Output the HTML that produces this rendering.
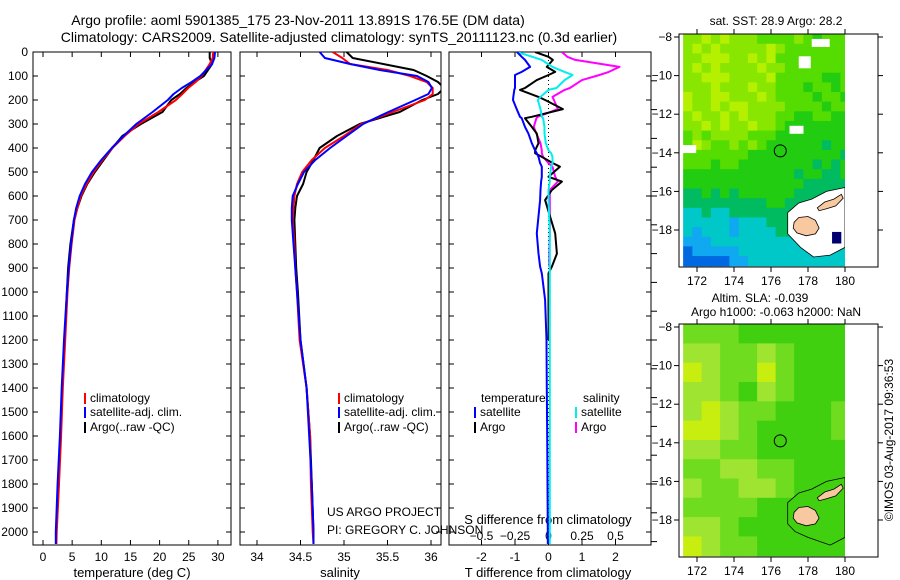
<!DOCTYPE html>
<html><head><meta charset="utf-8"><style>
html,body{margin:0;padding:0;background:#fff}
svg{display:block}
text{font-family:"Liberation Sans",sans-serif;font-size:12px;fill:#000}
.ax{font-size:13px}
.tt{font-size:14px}
</style></head><body>
<svg id="s" width="900" height="580" viewBox="0 0 900 580" xmlns="http://www.w3.org/2000/svg">
<text class="tt" x="298" y="25" text-anchor="middle">Argo profile: aoml 5901385_175 23-Nov-2011 13.891S 176.5E (DM data)</text>
<text class="tt" x="339" y="42" text-anchor="middle">Climatology: CARS2009. Satellite-adjusted climatology: synTS_20111123.nc (0.3d earlier)</text>
<g id="g"></g>
</svg>
<script>
// ---- data ----
const depths=[0,25,50,75,100,125,150,175,200,250,300,350,400,450,500,550,600,650,700,800,900,1000,1200,1400,1600,1800,2000,2050];
const tClim=[29.2,29.1,28.6,27.9,27.2,26.2,24.9,23.9,22.8,19.8,16.4,14.0,11.9,10.2,8.7,7.5,6.5,5.9,5.4,4.9,4.5,4.2,3.8,3.4,3.1,2.75,2.35,2.3];
const tSat=[29.5,29.4,29.0,28.0,27.0,25.5,23.8,22.4,21.4,18.8,16.0,13.8,11.8,10.0,8.4,7.2,6.3,5.7,5.3,4.8,4.4,4.1,3.6,3.2,2.9,2.5,2.2,2.2];
const tArgo=[28.6,28.6,29.0,28.3,27.6,26.0,24.6,23.5,22.0,20.5,16.8,13.6,11.9,10.4,8.9,7.6,6.6,5.9,5.3,4.7,4.3,4.1,3.7,3.3,3.0,2.7,2.3,null];
const sClim=[34.87,34.98,35.07,35.5,35.76,35.95,36.02,36.02,35.93,35.56,35.2,35.0,34.78,34.63,34.52,34.46,34.43,34.42,34.41,34.43,34.44,34.46,34.49,34.57,34.61,34.62,34.64,34.65];
const sSat=[34.72,34.78,35.07,35.41,35.84,35.97,36.01,35.97,35.82,35.51,35.22,35.03,34.84,34.67,34.54,34.47,34.41,34.4,34.4,34.42,34.44,34.46,34.5,34.57,34.6,34.63,34.65,34.65];
const sArgo=[35.03,35.1,35.45,35.8,35.95,36.08,36.15,36.08,35.9,35.64,35.18,34.92,34.72,34.65,34.57,34.53,34.46,34.44,34.43,34.44,34.45,34.47,34.5,34.57,34.61,34.63,34.65,null];
const dDepth=[0,20,33,62,83,96,117,150,158,187,200,238,270,276,312,340,380,410,422,437,463,478,520,540,575,617,756,840,894,922,1033,1200,1400,1600,1800,2000,2050];
const dTsat=[-0.94,-0.8,-0.7,-0.55,-0.8,-1.0,-1.0,-1.0,-1.02,-1.05,-1.06,-0.95,-0.85,-0.8,-0.7,-0.6,-0.5,-0.4,-0.35,-0.3,-0.25,-0.2,-0.2,-0.22,-0.24,-0.25,-0.35,-0.3,-0.25,-0.2,-0.1,-0.06,-0.05,-0.04,-0.03,-0.02,-0.02];
const dTargo=[-0.4,0.0,0.13,-0.05,0.2,0.0,-0.35,-0.7,-0.85,-0.3,-0.1,0.43,-0.5,-0.7,-0.5,-0.35,-0.3,-0.4,-0.4,-0.2,0.13,0.34,0.0,0.4,0.1,-0.1,0.2,0.25,0.1,0.0,0.0,0.0,null,null,null,null,null];
const dSsat=[-0.235,-0.12,-0.05,0.03,0.12,0.18,0.12,0.06,0.0,-0.06,-0.08,-0.06,-0.05,-0.04,-0.03,-0.03,-0.02,0.0,0.02,0.03,0.03,0.02,0.01,0.01,0.0,0.0,0.01,0.01,0.01,0.01,0.01,0.01,0.01,0.01,0.01,0.01,0.01];
const dSargo=[0.1,0.14,0.2,0.53,0.45,0.38,0.25,0.16,0.12,0.03,0.04,0.07,-0.08,-0.09,-0.11,-0.09,-0.06,-0.05,-0.05,-0.04,0.0,0.03,0.05,0.07,0.01,0.01,0.01,0.005,0.005,null,null,null,null,null,null,null,null];
const depthTicks=[0,100,200,300,400,500,600,700,800,900,1000,1100,1200,1300,1400,1500,1600,1700,1800,1900,2000];
const tTicks=[0,5,10,15,20,25,30];
const sTicks=[34,34.5,35,35.5,36];
const sTickLabels=["34","34.5","35","35.5","36"];
const dtTicks=[-2,-1,0,1,2];
const dsTicks=[-0.5,-0.25,0,0.25,0.5];
const lonTicks=[172,174,176,178,180];
const latTicks=[-8,-10,-12,-14,-16,-18];
// SST grid: 0.5 deg cells from 171.25E, -8 downward; digits = colour level
const sstRows=["110101112222123222","101011111012222222","110001101022222222","101011110112222222","110001111022222332","111011101122232232","011001110122223223","011010011112222322","101101011122332233","110101101123333333","212111122233333333","201221212333333433","222222233333333334","222322333333334343","333333333333433443","333333333333344444","443434333333444444","444444444334444444","554554444444444444","555556555444444444","565556555544444444","666555555555555555","766666555555555555","777776655555555555"];
const slaRows=["222333333","112212333","012202333","112312333","101223332","001233332","112233333","221122333","122112333","222233333","112333333","012233333"];
const sstColors=["#b4f000","#88e600","#55dc00","#22cc10","#00bb60","#00c8c8","#10a8f0","#0068e0"];
const slaColors=["#c8ee10","#9ee430","#70dc20","#40d010","#18c030"];
const vitiLevu=[[177.25,-17.6],[177.5,-17.35],[178.0,-17.3],[178.4,-17.5],[178.6,-17.9],[178.4,-18.2],[177.9,-18.3],[177.4,-18.15],[177.2,-17.9]];
const vanuaLevu=[[178.5,-16.85],[178.9,-16.55],[179.4,-16.4],[179.8,-16.15],[179.9,-16.35],[179.5,-16.75],[179.0,-16.9],[178.6,-17.0]];
const halo=[[176.9,-17.1],[177.5,-16.6],[178.2,-16.4],[179.0,-16.0],[180,-15.8],[180,-18.9],[179.2,-19.3],[178.3,-19.4],[177.6,-18.9],[176.9,-18.2]];
const argoPos=[176.5,-13.9];

const NS="http://www.w3.org/2000/svg";
const g=document.getElementById('g');
function el(tag,attrs,parent){const e=document.createElementNS(NS,tag);for(const k in attrs)e.setAttribute(k,attrs[k]);(parent||g).appendChild(e);return e;}
function txt(x,y,s,anchor,parent){const t=el('text',{x:x,y:y,'text-anchor':anchor||'start'},parent);t.textContent=s;return t;}
const yD=d=>52+0.24*d;
const PT=52,PB=545;
const panels=[{x0:33,x1:231},{x0:240,x1:441},{x0:449,x1:651}];
const xT=t=>43+t*5.83, xS=s=>257+(s-34)*87, xDT=v=>548.5+v*33.5, xDS=v=>548.5+v*134;

panels.forEach((p,i)=>{
  const f=el('rect',{x:p.x0,y:PT,width:p.x1-p.x0,height:PB-PT,fill:'none',stroke:'#000','stroke-width':1});
  
  
  depthTicks.forEach(d=>{el('line',{x1:p.x0,x2:p.x0+5,y1:yD(d),y2:yD(d),stroke:'#000'});el('line',{x1:p.x1,x2:p.x1-5,y1:yD(d),y2:yD(d),stroke:'#000'});});
});
depthTicks.forEach(d=>{const t=txt(28,yD(d)+4,String(d),'end');});
depthTicks.slice(1,18).forEach(d=>el('line',{x1:651,x2:657,y1:yD(d*1.2),y2:yD(d*1.2),stroke:'#000'}));
function xticks(vals,fx,labels,ly){vals.forEach((v,i)=>{const x=fx(v);el('line',{x1:x,x2:x,y1:PB,y2:PB-5,stroke:'#000'});el('line',{x1:x,x2:x,y1:PT,y2:PT+5,stroke:'#000'});const t=txt(x,ly,labels[i],'middle');});}
xticks(tTicks,xT,tTicks.map(String),561);
xticks(sTicks,xS,sTickLabels,561);
xticks(dtTicks,xDT,dtTicks.map(String),561);
dsTicks.forEach(v=>{const t=txt(xDS(v),540,String(v).replace('-','\u2212'),'middle');});
[["temperature (deg C)",132],["salinity",340],["T difference from climatology",548]].forEach(a=>{const t=txt(a[1],577,a[0],'middle');t.setAttribute('class','ax');});
{const t=txt(548,524,"S difference from climatology",'middle');t.setAttribute('class','ax');}
el('line',{x1:548.5,x2:548.5,y1:PT,y2:PB,stroke:'#000','stroke-dasharray':'1,3'});

const defs=el('defs',{});
panels.forEach((p,i)=>{const c=el('clipPath',{id:'c'+i},defs);el('rect',{x:p.x0,y:PT,width:p.x1-p.x0,height:PB-PT},c);});
function line(xs,ds,fx,color,name,clip,w){
  let d='',pen=false;
  xs.forEach((v,i)=>{if(v===null){pen=false;return;}d+=(pen?'L':'M')+fx(v).toFixed(1)+','+yD(ds[i]).toFixed(1);pen=true;});
  const p=el('path',{d:d,fill:'none',stroke:color,'stroke-width':w||2,'clip-path':'url(#c'+clip+')','stroke-linejoin':'round'});
  
  
}
line(tArgo,depths,xT,'#000','temp-argo-line',0);
line(tClim,depths,xT,'#f00','temp-climatology-line',0);
line(tSat,depths,xT,'#00f','temp-satellite-line',0);
line(sArgo,depths,xS,'#000','sal-argo-line',1);
line(sClim,depths,xS,'#f00','sal-climatology-line',1);
line(sSat,depths,xS,'#00f','sal-satellite-line',1);
line(dSargo,dDepth,xDS,'#f0f','sdiff-argo-line',2);
line(dTargo,dDepth,xDT,'#000','tdiff-argo-line',2);
line(dSsat,dDepth,xDS,'#0ee','sdiff-satellite-line',2);
line(dTsat,dDepth,xDT,'#00f','tdiff-satellite-line',2);

function leg(x,y,color,label,name){const r=el('rect',{x:x,y:y-9,width:2,height:11,fill:color});const t=txt(x+6,y,label);}
[[84,'temp'],[338,'sal']].forEach(a=>{leg(a[0],402,'#f00','climatology',a[1]+'-legend-climatology');leg(a[0],416,'#00f','satellite-adj. clim.',a[1]+'-legend-satellite');leg(a[0],431,'#000','Argo(..raw -QC)',a[1]+'-legend-argo');});
{const t=txt(481,402,'temperature');}
{const t=txt(583,402,'salinity');}
leg(474,416,'#00f','satellite','tdiff-legend-satellite');leg(474,431,'#000','Argo','tdiff-legend-argo');
leg(575,416,'#0ee','satellite','sdiff-legend-satellite');leg(575,431,'#f0f','Argo','sdiff-legend-argo');
{const t=txt(327,516,'US ARGO PROJECT');}
{const t=txt(327,534,'PI: GREGORY C. JOHNSON');}

function drawMap(top,rows,colors,cell,withHalo,name){
  const lx=l=>697+(l-172)*18.5, ly=la=>top+3+(-8-la)*19.3;
  const fx0=679,fx1=878,fy0=top,fy1=top+233;
  const cid='m'+top;const c=el('clipPath',{id:cid},defs);el('rect',{x:fx0,y:fy0,width:845-fx0,height:fy1-fy0},c);
  const gg=el('g',{'clip-path':'url(#'+cid+')'});
  
  
  rows.forEach((r,ri)=>{[...r].forEach((ch,ci)=>{const lon=171.25+ci*cell,lat=-7.85-ri*cell;
    el('rect',{x:lx(lon),y:ly(lat),width:cell*18.5+0.6,height:cell*19.3+0.6,fill:colors[+ch]},gg);});});
  const pts=a=>a.map(p=>lx(p[0]).toFixed(1)+','+ly(p[1]).toFixed(1)).join(' ');
  if(withHalo){el('polygon',{points:pts(halo),fill:'#fff',stroke:'#000','stroke-width':0.8},gg);
    el('rect',{x:lx(179.3),y:ly(-18.1),width:0.5*18.5,height:0.6*19.3,fill:'#000070'},gg);
    [[177.0,-12.6],[171.2,-13.6]].forEach(p=>el('rect',{x:lx(p[0]),y:ly(p[1]),width:14,height:8,fill:'#fff'},gg));
    el('rect',{x:lx(178.2),y:ly(-8.1),width:18,height:8,fill:'#fff'},gg);
    el('rect',{x:lx(177.5),y:ly(-9.0),width:12,height:12,fill:'#fff'},gg);
  } else {el('polygon',{points:pts(halo.slice(0,6).concat([[179.2,-19.3],[178.0,-18.9],[177.3,-18.6],[176.9,-18.2]])),fill:'none',stroke:'#000','stroke-width':0.8},gg);}
  const v=el('polygon',{points:pts(vitiLevu),fill:'#f8c8a0',stroke:'#000','stroke-width':0.8});
  
  const w=el('polygon',{points:pts(vanuaLevu),fill:'#f8c8a0',stroke:'#000','stroke-width':0.8});
  
  const ci=el('circle',{cx:lx(argoPos[0]),cy:ly(argoPos[1]),r:6,fill:'none',stroke:'#000','stroke-width':1});
  
  const fr=el('rect',{x:fx0,y:fy0,width:fx1-fx0,height:fy1-fy0,fill:'none',stroke:'#000'});
  
  lonTicks.forEach(l=>{const x=lx(l);el('line',{x1:x,x2:x,y1:fy1,y2:fy1+5,stroke:'#000'});el('line',{x1:x,x2:x,y1:fy0,y2:fy0-5,stroke:'#000'});const t=txt(x,fy1+18,String(l),'middle');});
  latTicks.forEach(la=>{const y=ly(la);el('line',{x1:fx0,x2:fx0-5,y1:y,y2:y,stroke:'#000'});el('line',{x1:fx1,x2:fx1+5,y1:y,y2:y,stroke:'#000'});const t=txt(672,y+4,String(la).replace('-','\u2212'),'end');});
}
drawMap(34,sstRows,sstColors,0.5,true,'sst-map');
drawMap(324,slaRows,slaColors,1,false,'sla-map');
{const t=txt(776,25,'sat. SST: 28.9 Argo: 28.2','middle');}
{const t=txt(760,302,'Altim. SLA: -0.039','middle');}
{const t=txt(776,316,'Argo h1000: -0.063 h2000: NaN','middle');}
{const t=txt(0,0,'\u00a9IMOS 03-Aug-2017 09:36:53','middle');t.setAttribute('transform','translate(893,440) rotate(-90)');}
</script>
</body></html>
